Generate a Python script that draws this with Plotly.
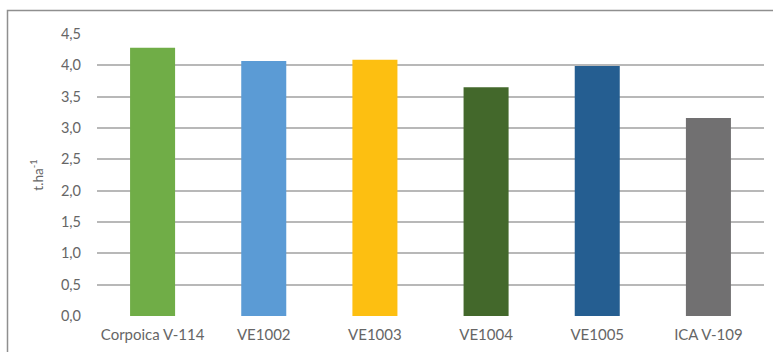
import plotly.graph_objects as go

categories = ["Corpoica V-114", "VE1002", "VE1003", "VE1004", "VE1005", "ICA V-109"]
values = [4.28, 4.07, 4.09, 3.65, 3.99, 3.16]
colors = ["#70AD47", "#5B9BD5", "#FDBF11", "#43682B", "#255E91", "#717071"]
y_ticks = [0, 0.5, 1.0, 1.5, 2.0, 2.5, 3.0, 3.5, 4.0, 4.5]

fig = go.Figure(go.Bar(x=categories, y=values, marker=dict(color=colors, line=dict(width=0)), width=0.405))

W, H = 773, 352
l, r, t, b = 97, 9, 34, 36
pw, ph = W - l - r, H - t - b

fig.update_layout(
    width=W, height=H,
    margin=dict(l=l, r=r, t=t, b=b),
    paper_bgcolor="white", plot_bgcolor="white",
    separators=",.",
    font=dict(family="Lato, Open Sans, sans-serif", size=14, color="#666666"),
    showlegend=False,
    xaxis=dict(showgrid=False, showline=False, ticks="", tickfont=dict(size=15),
               ticklabelstandoff=8),
    yaxis=dict(range=[0, 4.5], tickvals=y_ticks, tickformat=".1f", showgrid=True,
               gridcolor="#b8b8b8", gridwidth=1.5, zeroline=False, showline=False,
               ticks="", ticklen=0, tickfont=dict(size=14.5), ticklabelstandoff=15,
               title=dict(text="t.ha<sup>-1</sup>", font=dict(size=13.5, color="#666666"), standoff=14)),
    shapes=[dict(type="rect", xref="paper", yref="paper",
                 x0=(7.5 - l) / pw, x1=1.2, y0=-0.3, y1=1 + (t - 10.5) / ph,
                 line=dict(color="#8f8f8f", width=1.5), fillcolor="rgba(0,0,0,0)", layer="below")],
)

fig.write_html("out.html")
